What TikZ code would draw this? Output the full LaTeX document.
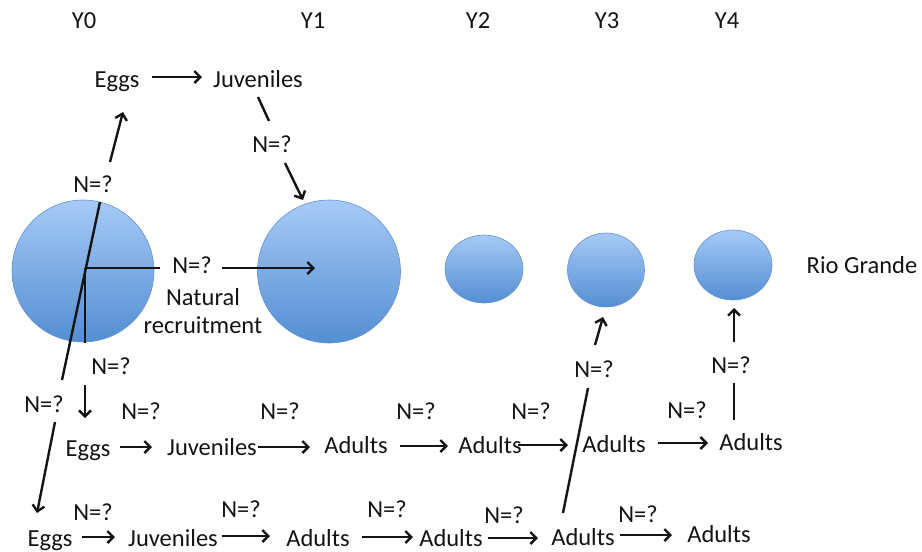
\documentclass[tikz,border=0pt]{standalone}
\usepackage{fontspec}
\setmainfont{Carlito}
\usetikzlibrary{arrows.meta,shapes.geometric}
\definecolor{ctop}{RGB}{166,202,246}
\definecolor{cbot}{RGB}{84,142,211}
\definecolor{cedge}{RGB}{100,148,206}
\definecolor{ink}{RGB}{20,20,20}
\begin{document}
\begin{tikzpicture}[x=1pt,y=-1pt,
  txt/.style={anchor=base,inner sep=0pt,font=\fontsize{24.5}{28}\selectfont,text=ink},
  pop/.style={ellipse,draw=cedge,line width=0.6pt,top color=ctop,bottom color=cbot,inner sep=0pt},
  ln/.style={draw=ink,line width=2.4pt},
  arr/.style={ln,-{Straight Barb[length=6pt,width=12pt,line width=2.4pt]}}]
\useasboundingbox (0,0) rectangle (922,552);
% populations
\node[pop,minimum width=142pt,minimum height=142pt] (c0) at (83,271) {};
\node[pop,minimum width=143pt,minimum height=143pt] (c1) at (329,271.5) {};
\node[pop,minimum width=78pt,minimum height=68pt] (c2) at (484,269) {};
\node[pop,minimum width=77pt,minimum height=74pt] (c3) at (606,270) {};
\node[pop,minimum width=78pt,minimum height=70pt] (c4) at (733,265) {};
\node[txt] (rio) at (862,273) {Rio Grande};
% year labels
\node[txt] (y0) at (84,28) {Y0};
\node[txt] (y1) at (313,28) {Y1};
\node[txt] (y2) at (478,28) {Y2};
\node[txt] (y3) at (607,28) {Y3};
\node[txt] (y4) at (727,28) {Y4};
% top row
\node[txt] (eggsT) at (117,87) {Eggs};
\node[txt] (juvT) at (258,87) {Juveniles};
\node[txt] (nT0) at (93,192) {N=?};
\node[txt] (nT1) at (272,152) {N=?};
% natural recruitment
\node[txt] (nMid) at (192,273) {N=?};
\node[txt] (nat1) at (203,305) {Natural};
\node[txt] (nat2) at (203,333) {recruitment};
\node[txt] (nV) at (111,374) {N=?};
\node[txt] (nL) at (44,412) {N=?};
% middle row
\node[txt] (eggsM) at (88,456) {Eggs};
\node[txt] (juvM) at (212,455) {Juveniles};
\node[txt] (adM1) at (356,453) {Adults};
\node[txt] (adM2) at (490,453) {Adults};
\node[txt] (adM3) at (614,452) {Adults};
\node[txt] (adM4) at (751,450) {Adults};
\node[txt] (nM1) at (141,419) {N=?};
\node[txt] (nM2) at (280,419) {N=?};
\node[txt] (nM3) at (416,419) {N=?};
\node[txt] (nM4) at (531,419) {N=?};
\node[txt] (nM5) at (687,418) {N=?};
\node[txt] (nUp4) at (731,373) {N=?};
\node[txt] (nUp3) at (594,377) {N=?};
% bottom row
\node[txt] (eggsB) at (50,546) {Eggs};
\node[txt] (juvB) at (173,546) {Juveniles};
\node[txt] (adB1) at (318,546) {Adults};
\node[txt] (adB2) at (451,546) {Adults};
\node[txt] (adB3) at (583,545) {Adults};
\node[txt] (adB4) at (719,542) {Adults};
\node[txt] (nB1) at (93,520) {N=?};
\node[txt] (nB2) at (241,517) {N=?};
\node[txt] (nB3) at (387,517) {N=?};
\node[txt] (nB4) at (504,523) {N=?};
\node[txt] (nB5) at (638,522) {N=?};
% connector end points
\coordinate (cc) at (85,268);
\coordinate (a1) at (152,77);   \coordinate (a2) at (202,77);
\coordinate (b1) at (110,162);  \coordinate (b2) at (123,112);
\coordinate (d1) at (258,97);   \coordinate (d2) at (269,121);
\coordinate (e1) at (285,163);  \coordinate (e2) at (303,200);
\coordinate (f1) at (100,202);  \coordinate (f2) at (62,380);
\coordinate (g1) at (160,268);  \coordinate (g2) at (222,268); \coordinate (g3) at (315,268);
\coordinate (h1) at (85,343);   \coordinate (h2) at (85,385);  \coordinate (h3) at (85,418);
\coordinate (k1) at (55,422);   \coordinate (k2) at (37,513);
\coordinate (m1) at (734,420);  \coordinate (m2) at (734,383);
\coordinate (m3) at (734,342);  \coordinate (m4) at (734,308);
\coordinate (p1) at (563,513);  \coordinate (p2) at (588,388);
\coordinate (p3) at (595,345);  \coordinate (p4) at (603,317);
% connectors
\draw[arr] (a1) -- (a2);
\draw[arr] (b1) -- (b2);
\draw[ln] (d1) -- (d2);
\draw[arr] (e1) -- (e2);
\draw[ln] (f1) -- (f2);
\draw[ln] (cc) -- (g1);
\draw[arr] (g2) -- (g3);
\draw[ln] (cc) -- (h1);
\draw[arr] (h2) -- (h3);
\draw[arr] (k1) -- (k2);
\draw[ln] (m1) -- (m2);
\draw[arr] (m3) -- (m4);
\draw[ln] (p1) -- (p2);
\draw[arr] (p3) -- (p4);
% middle row arrows
\coordinate (r1a) at (120,447); \coordinate (r1b) at (152,447);
\coordinate (r2a) at (258,447); \coordinate (r2b) at (310,447);
\coordinate (r3a) at (400,446); \coordinate (r3b) at (448,446);
\coordinate (r4a) at (518,445); \coordinate (r4b) at (568,445);
\coordinate (r5a) at (658,443); \coordinate (r5b) at (708,443);
\draw[arr] (r1a) -- (r1b);
\draw[arr] (r2a) -- (r2b);
\draw[arr] (r3a) -- (r3b);
\draw[arr] (r4a) -- (r4b);
\draw[arr] (r5a) -- (r5b);
% bottom row arrows
\coordinate (s1a) at (82,537);  \coordinate (s1b) at (115,537);
\coordinate (s2a) at (222,536); \coordinate (s2b) at (270,536);
\coordinate (s3a) at (362,537); \coordinate (s3b) at (413,537);
\coordinate (s4a) at (488,538); \coordinate (s4b) at (538,538);
\coordinate (s5a) at (620,535); \coordinate (s5b) at (672,535);
\draw[arr] (s1a) -- (s1b);
\draw[arr] (s2a) -- (s2b);
\draw[arr] (s3a) -- (s3b);
\draw[arr] (s4a) -- (s4b);
\draw[arr] (s5a) -- (s5b);
\end{tikzpicture}
\end{document}
